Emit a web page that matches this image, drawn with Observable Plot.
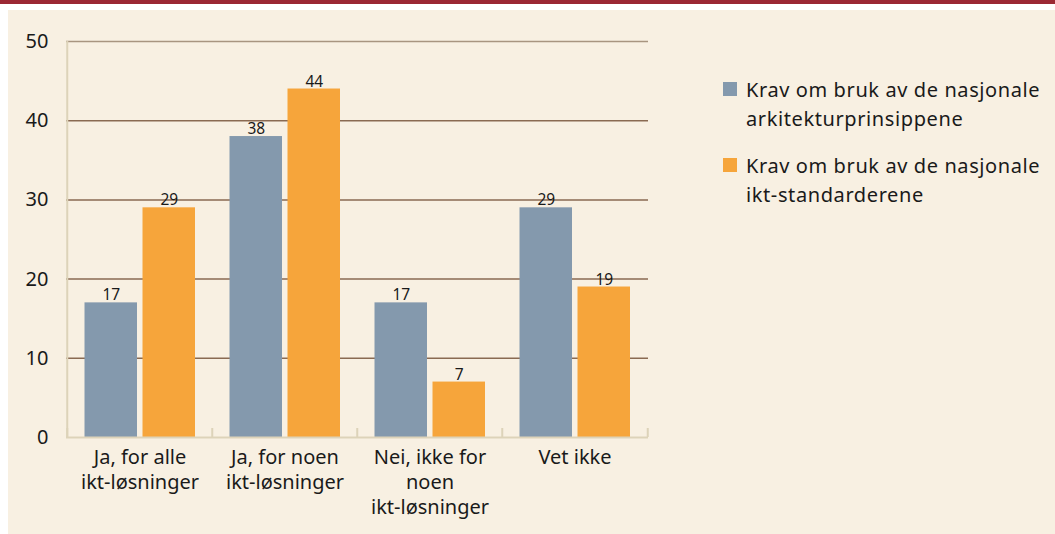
<!DOCTYPE html>
<html>
<head>
<meta charset="utf-8">
<script src="https://cdn.jsdelivr.net/npm/d3@7"></script>
<script src="https://cdn.jsdelivr.net/npm/@observablehq/plot@0.6"></script>
<style>
  html, body { margin: 0; padding: 0; background: #ffffff; }
  #page { position: relative; width: 1055px; height: 534px; overflow: hidden; font-family: "Noto Sans", sans-serif; color: #1a1a1a; }
  #topbar { position: absolute; left: 0; top: 0; width: 1055px; height: 4px; background: #9B2834; }
  #panel { position: absolute; left: 8px; top: 10px; width: 1047px; height: 524px; background: #F8F0E2; }
  #chart { position: absolute; left: 0; top: 0; }
  #legend { position: absolute; left: 723px; top: 75px; font-size: 20px; line-height: 29px; letter-spacing: 0.6px; }
  .item { position: relative; padding-left: 23px; margin-bottom: 18px; }
  .sw { position: absolute; left: 0; top: 7px; width: 14px; height: 14px; }
</style>
</head>
<body>
<div id="page">
  <div id="topbar"></div>
  <div id="panel"></div>
  <div id="chart"></div>
  <div id="legend"></div>
</div>
<script>
const categories = ["Ja, for alle\nikt-løsninger", "Ja, for noen\nikt-løsninger", "Nei, ikke for\nnoen\nikt-løsninger", "Vet ikke"];
const seriesNames = ["Krav om bruk av de nasjonale\narkitekturprinsippene", "Krav om bruk av de nasjonale\nikt-standarderene"];
const arkitektur = [17, 38, 17, 29];
const standarder = [29, 44, 7, 19];
const yTicks = [0, 10, 20, 30, 40, 50];
const colors = ["#8499AD", "#F6A53B"];

const W = 660, H = 525, mL = 66, mR = 12, mT = 41, mB = 88;
const bw = (W - mL - mR) / categories.length;

const rowsA = categories.map((c, i) => ({cat: c, value: arkitektur[i]}));
const rowsB = categories.map((c, i) => ({cat: c, value: standarder[i]}));

const chart = Plot.plot({
  width: W, height: H,
  marginLeft: mL, marginRight: mR, marginTop: mT, marginBottom: mB,
  style: {background: "transparent", fontFamily: "Noto Sans, sans-serif", color: "#1a1a1a", overflow: "visible"},
  x: {domain: categories, padding: 0},
  y: {domain: [0, 50]},
  marks: [
    Plot.ruleY(yTicks.filter(d => d > 0 && d < 50), {stroke: "#8A6A52", strokeWidth: 1.5}),
    Plot.ruleY([50], {stroke: "#A89580", strokeWidth: 1.4}),
    Plot.barY(rowsA, {x: "cat", y: "value", fill: colors[0], insetLeft: 17.5, insetRight: bw - 17.5 - 53}),
    Plot.barY(rowsB, {x: "cat", y: "value", fill: colors[1], insetLeft: 75.5, insetRight: bw - 75.5 - 53}),
    Plot.text(rowsA, {x: "cat", y: "value", text: d => String(d.value), dx: 17.5 + 26.5 - bw / 2, dy: -2.5, lineAnchor: "bottom", fontSize: 15.5, fill: "#1a1a1a", style: "letter-spacing:0.3px"}),
    Plot.text(rowsB, {x: "cat", y: "value", text: d => String(d.value), dx: 75.5 + 26.5 - bw / 2, dy: -2.5, lineAnchor: "bottom", fontSize: 15.5, fill: "#1a1a1a", style: "letter-spacing:0.3px"}),
    Plot.ruleY([0], {stroke: "#DDD3B9", strokeWidth: 2}),
    Plot.ruleX(categories, {x: d => d, dx: -bw / 2, insetTop: H - mT - mB - 9, stroke: "#DDD3B9", strokeWidth: 2}),
    Plot.ruleX([categories[categories.length - 1]], {x: d => d, dx: bw / 2, insetTop: H - mT - mB - 9, stroke: "#DDD3B9", strokeWidth: 2}),
    Plot.ruleX([categories[0]], {x: d => d, dx: -bw / 2, stroke: "#DDD3B9", strokeWidth: 2}),
    Plot.axisY({ticks: yTicks, tickSize: 0, tickPadding: 18, fontSize: 20, label: null}),
    Plot.axisX({tickSize: 0, tickPadding: 9, fontSize: 20, lineHeight: 1.25, label: null, style: "letter-spacing:0.5px"})
  ]
});
document.getElementById("chart").appendChild(chart);

const legend = document.getElementById("legend");
seriesNames.forEach((name, i) => {
  const item = document.createElement("div");
  item.className = "item";
  const sw = document.createElement("div");
  sw.className = "sw";
  sw.style.background = colors[i];
  item.appendChild(sw);
  name.split("\n").forEach(line => {
    const l = document.createElement("div");
    l.textContent = line;
    item.appendChild(l);
  });
  legend.appendChild(item);
});
</script>
</body>
</html>
